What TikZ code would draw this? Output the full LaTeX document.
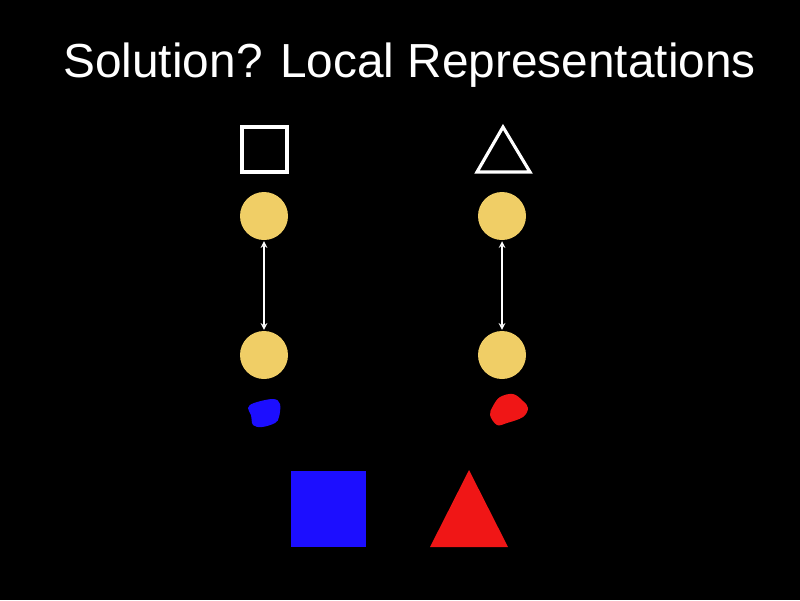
\documentclass[tikz,border=0pt]{standalone}
\usepackage{fontspec}
\setmainfont{Liberation Sans}
\definecolor{discyellow}{RGB}{240,206,102}
\definecolor{slideblue}{RGB}{28,14,255}
\definecolor{slidered}{RGB}{240,22,22}
\tikzset{
  disc/.style={circle,fill=discyellow,minimum size=0.96cm,inner sep=0pt},
  outline/.style={draw=white,line width=1.8pt,line join=miter},
  link/.style={<->,>=stealth,white,line width=0.7pt,shorten <=0.5pt,shorten >=0.5pt}
}
\begin{document}
\begin{tikzpicture}[x=0.02cm,y=-0.02cm]
%Background of the slide
\fill[black] (0,0) rectangle (800,600);
\useasboundingbox (0,0) rectangle (800,600);
%Title
\node[anchor=base west,inner sep=0pt,text=white,font=\fontsize{27.2}{32}\selectfont] (title) at (63,77) {Solution? Local Representations};
%Outline shapes at the top
\draw[outline] (242,127) rectangle (287,172);
\draw[outline] (503,127) -- (530,172) -- (477,172) -- cycle;
%Units, one pair under each shape
\foreach \name/\x in {sq/264,tri/502} {
  \node[disc] (\name Top) at (\x,216) {};
  \node[disc] (\name Bottom) at (\x,355) {};
  \draw[link] (\name Top) -- (\name Bottom);
}
%The blobs
\fill[slideblue] plot[smooth cycle,tension=0.6] coordinates {(248,408) (254,403) (273,399) (280,404) (279,417) (275,423) (262,427) (253,425) (251,415)};
\fill[slidered] plot[smooth cycle,tension=0.6] coordinates {(493,406) (500,397) (513,394) (523,401) (528,408) (523,417) (507,423) (497,425) (490,415)};
%Filled shapes at the bottom
\fill[slideblue] (291,471) rectangle (366,547);
\fill[slidered] (469,470) -- (508,547) -- (430,547) -- cycle;
\end{tikzpicture}
\end{document}
